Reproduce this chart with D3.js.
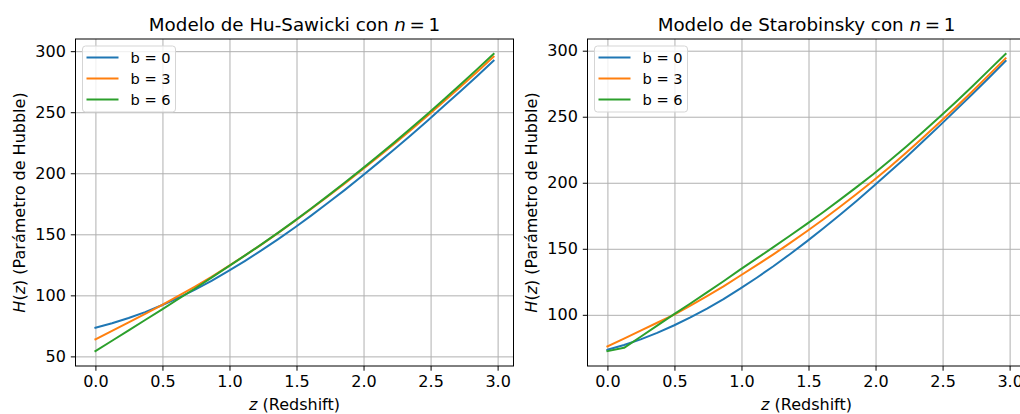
<!DOCTYPE html>
<html>
<head>
<meta charset="utf-8">
<script src="https://cdn.jsdelivr.net/npm/d3@7"></script>
<style>
  html, body { margin: 0; padding: 0; background: #fff; }
  svg { display: block; font-family: "DejaVu Sans", sans-serif; }
</style>
</head>
<body>
<svg id="chart" width="1020" height="414"></svg>
<script>
// Redshift grid shared by every curve
const zValues = [0.000, 0.124, 0.248, 0.371, 0.495, 0.619, 0.743, 0.866, 0.990,
                 1.114, 1.238, 1.361, 1.485, 1.609, 1.733, 1.856, 1.980, 2.104,
                 2.228, 2.351, 2.475, 2.599, 2.723, 2.846, 2.970];

// b = 0 reduces to the same expansion history in both models
const hubbleB0 = [73.5, 77.1, 81.4, 86.3, 91.9, 98.0, 104.7, 111.9, 119.8,
                  128.1, 136.8, 145.9, 155.4, 165.3, 175.6, 186.0, 196.9, 208.1,
                  219.4, 231.0, 242.9, 255.0, 267.2, 279.5, 292.2];

// Hu-Sawicki, n = 1
const huSawickiB3 = [64.0, 70.9, 77.9, 84.8, 91.9, 99.5, 107.2, 115.2, 123.7,
                     132.5, 141.6, 151.0, 160.7, 170.7, 181.0, 191.3, 202.0, 212.9,
                     224.0, 235.3, 246.9, 258.8, 270.8, 283.0, 295.5];
const huSawickiB6 = [54.3, 62.8, 71.3, 79.8, 88.3, 97.0, 105.6, 114.5, 123.5,
                     132.5, 141.7, 151.2, 161.0, 171.1, 181.5, 192.0, 202.8, 213.9,
                     225.1, 236.6, 248.4, 260.4, 272.7, 285.1, 297.8];

// Starobinsky, n = 1
const starobinskyB3 = [76.0, 82.0, 88.0, 94.0, 100.0, 107.0, 114.2, 121.6, 129.6,
                       137.6, 145.8, 154.3, 163.1, 172.2, 181.6, 191.3, 201.3, 211.8,
                       222.7, 233.9, 245.4, 257.2, 269.3, 281.7, 294.2];
const starobinskyB6 = [72.5, 75.0, 83.4, 91.8, 100.3, 108.6, 117.0, 125.4, 134.2,
                       142.7, 151.2, 159.9, 168.7, 177.7, 187.0, 196.5, 206.3, 216.6,
                       227.3, 238.3, 249.6, 261.2, 273.1, 285.3, 297.6];

const legendLabels = ["b = 0", "b = 3", "b = 6"];
const seriesColors = ["#1f77b4", "#ff7f0e", "#2ca02c"];

const xTicks = [0.0, 0.5, 1.0, 1.5, 2.0, 2.5, 3.0];
const yTicksHuSawicki = [50, 100, 150, 200, 250, 300];
const yTicksStarobinsky = [100, 150, 200, 250, 300];

const svg = d3.select("#chart");
svg.append("rect").attr("width", 1020).attr("height", 414).attr("fill", "#fff");

// 5% breathing room on each side of the data range
function padded(extent) {
  const span = extent[1] - extent[0];
  return [extent[0] - 0.05 * span, extent[1] + 0.05 * span];
}

function drawPanel(opts) {
  const { left, top, width, height, modelName, series, yTicks } = opts;
  const g = svg.append("g").attr("transform", `translate(${left},${top})`);

  const x = d3.scaleLinear().domain(padded(d3.extent(zValues))).range([0, width]);
  const allH = series.flat();
  const y = d3.scaleLinear().domain(padded(d3.extent(allH))).range([height, 0]);

  // grid
  g.append("g")
    .attr("transform", `translate(0,${height})`)
    .call(d3.axisBottom(x).tickValues(xTicks).tickSize(-height).tickFormat(""))
    .call(s => s.select(".domain").remove())
    .call(s => s.selectAll("line").attr("stroke", "#b0b0b0").attr("stroke-width", 1));
  g.append("g")
    .call(d3.axisLeft(y).tickValues(yTicks).tickSize(-width).tickFormat(""))
    .call(s => s.select(".domain").remove())
    .call(s => s.selectAll("line").attr("stroke", "#b0b0b0").attr("stroke-width", 1));

  // curves
  const line = d3.line().x((d, i) => x(zValues[i])).y(d => y(d));
  series.forEach((vals, k) => {
    g.append("path")
      .datum(vals)
      .attr("d", line)
      .attr("fill", "none")
      .attr("stroke", seriesColors[k])
      .attr("stroke-width", 2)
      .attr("stroke-linejoin", "round")
      .attr("stroke-linecap", "square");
  });

  // frame
  g.append("rect")
    .attr("width", width).attr("height", height)
    .attr("fill", "none").attr("stroke", "#000").attr("stroke-width", 1);

  // axes with ticks and labels
  const xAxis = g.append("g")
    .attr("transform", `translate(0,${height})`)
    .call(d3.axisBottom(x).tickValues(xTicks).tickSize(4.7).tickPadding(5)
      .tickFormat(d3.format(".1f")));
  const yAxis = g.append("g")
    .call(d3.axisLeft(y).tickValues(yTicks).tickSize(4.7).tickPadding(5)
      .tickFormat(d3.format("d")));
  [xAxis, yAxis].forEach(a => {
    a.select(".domain").remove();
    a.selectAll("line").attr("stroke", "#000").attr("stroke-width", 1);
    a.selectAll("text").attr("fill", "#000").attr("font-size", 16)
      .attr("font-family", "DejaVu Sans");
  });

  // title
  const title = g.append("text")
    .attr("x", width / 2).attr("y", -8)
    .attr("text-anchor", "middle")
    .attr("font-size", 18.3).attr("fill", "#000");
  title.append("tspan").text(`Modelo de ${modelName} con `);
  title.append("tspan").attr("font-style", "italic").text("n");
  title.append("tspan").text("\u2009=\u20091");

  // x label
  const xl = g.append("text")
    .attr("x", width / 2).attr("y", height + 44)
    .attr("text-anchor", "middle")
    .attr("font-size", 16).attr("fill", "#000");
  xl.append("tspan").attr("font-style", "italic").text("z");
  xl.append("tspan").text(" (Redshift)");

  // y label
  const yl = g.append("text")
    .attr("transform", `translate(-51,${height / 2}) rotate(-90)`)
    .attr("text-anchor", "middle")
    .attr("font-size", 16).attr("fill", "#000");
  yl.append("tspan").attr("font-style", "italic").text("H");
  yl.append("tspan").text("(");
  yl.append("tspan").attr("font-style", "italic").text("z");
  yl.append("tspan").text(") (Parámetro de Hubble)");

  // legend
  const lg = g.append("g").attr("transform", "translate(7,7)");
  lg.append("rect")
    .attr("width", 93).attr("height", 66).attr("rx", 3)
    .attr("fill", "#fff").attr("fill-opacity", 0.8)
    .attr("stroke", "#d5d5d5").attr("stroke-width", 1);
  legendLabels.forEach((lab, k) => {
    const cy = 11.5 + k * 21;
    lg.append("line")
      .attr("x1", 4).attr("x2", 36).attr("y1", cy).attr("y2", cy)
      .attr("stroke", seriesColors[k]).attr("stroke-width", 2);
    lg.append("text")
      .attr("x", 48).attr("y", cy + 5.3)
      .attr("font-size", 14.6).attr("fill", "#000")
      .text(lab);
  });
}

drawPanel({
  left: 75.5, top: 39, width: 438, height: 327,
  modelName: "Hu-Sawicki",
  series: [hubbleB0, huSawickiB3, huSawickiB6],
  yTicks: yTicksHuSawicki
});

drawPanel({
  left: 587.5, top: 39, width: 438, height: 327,
  modelName: "Starobinsky",
  series: [hubbleB0, starobinskyB3, starobinskyB6],
  yTicks: yTicksStarobinsky
});
</script>
</body>
</html>
